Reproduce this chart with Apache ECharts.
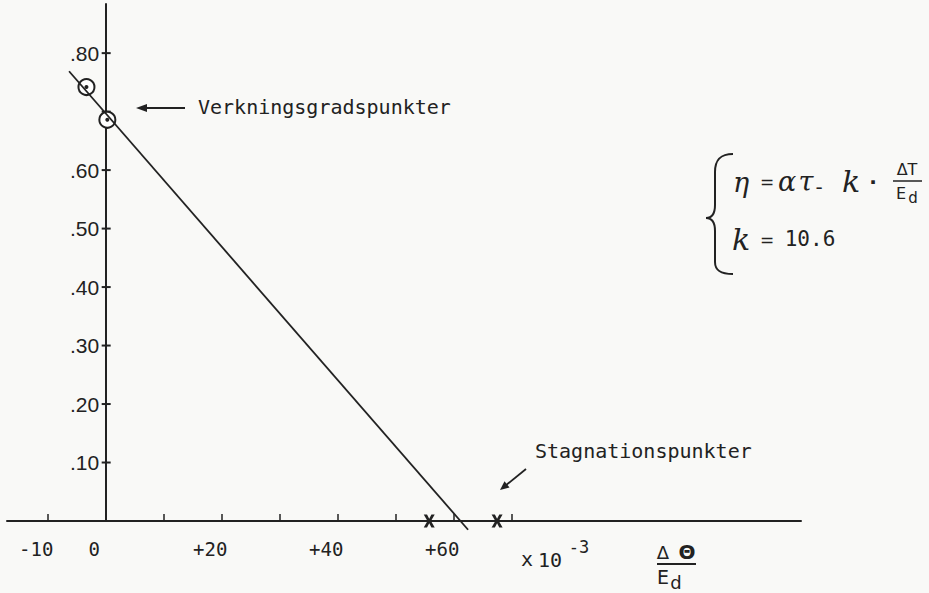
<!DOCTYPE html>
<html><head><meta charset="utf-8">
<script src="https://cdn.jsdelivr.net/npm/echarts@6/dist/echarts.min.js"></script>
<style>html,body{margin:0;padding:0;background:#f9f9f7}#c{width:929px;height:593px}</style>
</head><body><div id="c"></div>
<script>
// ---- data ----
const xTickValues = [-10, 0, 10, 20, 30, 40, 50, 60, 70];
const xTickLabels = [-10, 0, 20, 40, 60];
const yTickValues = [0.1, 0.2, 0.3, 0.4, 0.5, 0.6, 0.7, 0.8];
const yTickLabels = [0.1, 0.2, 0.3, 0.4, 0.5, 0.6, 0.8];
// Verkningsgradspunkter (efficiency points)
const effX = [-3.4, 0.2];
const effY = [0.742, 0.686];
// Stagnationspunkter (stagnation points)
const stagX = [55.7, 67.4];
const stagY = [0, 0];
// fitted line eta = a*tau - k * dT/Ed
const fitX = [-6.4, 62.4];
const fitY = [0.769, -0.015];

const ink = '#222';
const X_MIN = -17.1, X_MAX = 119.8, Y_MIN = 0, Y_MAX = 0.884;
const GRID = { left: 7, right: 128, top: 4, bottom: 72 };
const W = 929;
// put the y axis (line, labels) where x = 0 lies inside the grid
const yAxisOffset = -((0 - X_MIN) / (X_MAX - X_MIN)) * (W - GRID.left - GRID.right);

const pairs = (xs, ys) => xs.map((x, i) => [x, ys[i]]);
const txt = (text, x, y, font, extra) => ({
  type: 'text', x: x, y: y,
  style: Object.assign({ text: text, font: font, fill: ink, align: 'center', verticalAlign: 'middle' }, extra || {})
});
const seg = (x1, y1, x2, y2, w) => ({ type: 'line', shape: { x1, y1, x2, y2 }, style: { stroke: ink, lineWidth: w || 1.8 } });
const curve = (x1, y1, cpx1, cpy1, cpx2, cpy2, x2, y2) => ({
  type: 'bezierCurve', shape: { x1, y1, cpx1, cpy1, cpx2, cpy2, x2, y2 }, style: { stroke: ink, lineWidth: 2, fill: null }
});
const mono = "20px 'DejaVu Sans Mono', monospace";
const hand = "italic 27px 'DejaVu Serif', serif";

const chart = echarts.init(document.getElementById('c'), null, { renderer: 'svg' });
chart.setOption({
  backgroundColor: '#f9f9f7',
  animation: false,
  grid: Object.assign({ containLabel: false, outerBoundsMode: 'none' }, GRID),
  xAxis: {
    type: 'value', min: X_MIN, max: X_MAX,
    splitLine: { show: false },
    axisLine: { onZero: false, lineStyle: { color: ink, width: 2 } },
    axisTick: { show: true, inside: true, length: 7, customValues: xTickValues, lineStyle: { color: ink, width: 1.5 } },
    axisLabel: {
      customValues: xTickLabels, margin: 18, color: ink,
      fontFamily: "'DejaVu Sans Mono', monospace", fontSize: 19,
      padding: [0, 24, 0, 0],
      formatter: v => (v > 0 ? '+' + v : String(v))
    }
  },
  yAxis: {
    type: 'value', min: Y_MIN, max: Y_MAX, position: 'left', offset: yAxisOffset,
    splitLine: { show: false },
    axisLine: { onZero: false, lineStyle: { color: ink, width: 2 } },
    axisTick: { show: false },
    axisLabel: {
      customValues: yTickLabels, margin: 7, color: ink,
      fontFamily: "'Liberation Sans', Arial, sans-serif", fontSize: 21,
      formatter: v => v.toFixed(2).replace(/^0/, '')
    }
  },
  series: [
    { // crossing ticks on the y axis
      type: 'scatter', silent: true, symbol: 'rect', symbolSize: [9, 2],
      itemStyle: { color: ink, opacity: 1 }, data: yTickValues.map(v => [0, v]), z: 3
    },
    { // efficiency points: ring
      type: 'scatter', name: 'Verkningsgradspunkter', symbol: 'emptyCircle', symbolSize: 16,
      itemStyle: { color: ink, borderColor: ink, borderWidth: 2.2, opacity: 1 }, data: pairs(effX, effY), z: 4
    },
    { // efficiency points: centre dot
      type: 'scatter', symbol: 'circle', symbolSize: 4,
      itemStyle: { color: ink, opacity: 1 }, data: pairs(effX, effY), z: 5
    },
    { // stagnation points
      type: 'scatter', name: 'Stagnationspunkter',
      symbol: 'path://M0,0L3,0L5,4L7,0L10,0L6.6,6L10,12L7,12L5,8L3,12L0,12L3.4,6Z',
      symbolSize: [11, 13], itemStyle: { color: ink, opacity: 1 }, data: pairs(stagX, stagY), z: 5
    },
    { // fitted line
      type: 'line', symbol: 'none', clip: false, silent: true,
      lineStyle: { color: ink, width: 1.8 }, data: pairs(fitX, fitY), z: 6
    }
  ],
  graphic: [
    // Verkningsgradspunkter annotation
    seg(185, 108, 142, 108),
    { type: 'polygon', shape: { points: [[136, 108], [147, 104], [147, 112]] }, style: { fill: ink } },
    txt('Verkningsgradspunkter', 198, 107, mono, { align: 'left' }),
    // Stagnationspunkter annotation
    txt('Stagnationspunkter', 535, 451, mono, { align: 'left' }),
    seg(526, 469, 505, 486),
    { type: 'polygon', shape: { points: [[500, 490], [509.5, 487.4], [504.5, 481.2]] }, style: { fill: ink } },
    // axis unit  x 10^-3
    txt('x', 527, 559, mono),
    txt('10', 550, 560, "20px 'DejaVu Sans Mono', monospace"),
    txt('-3', 579, 547, "17px 'DejaVu Sans Mono', monospace"),
    // axis quantity  ΔΘ / Ed
    txt('Δ', 663, 552, "18px 'DejaVu Sans', sans-serif"),
    txt('Θ', 687, 552, "bold 20px 'DejaVu Sans', sans-serif"),
    seg(657, 564, 696, 564),
    txt('E', 663, 577, "19px 'DejaVu Sans', sans-serif"),
    txt('d', 676, 582, "18px 'DejaVu Sans', sans-serif"),
    // equation block: brace
    curve(733, 154, 720, 154, 715, 160, 715, 172),
    seg(715, 172, 715, 205, 2),
    curve(715, 205, 715, 214, 712, 218, 706, 218),
    curve(706, 218, 712, 218, 715, 222, 715, 231),
    seg(715, 231, 715, 262, 2),
    curve(715, 262, 715, 270, 720, 274, 733, 274),
    txt('η', 741, 182, hand),
    txt('=', 767, 182, "17px 'DejaVu Sans', sans-serif"),
    txt('α', 787, 181, hand),
    txt('τ', 806, 181, hand),
    txt('-', 819, 187, "20px 'DejaVu Sans', sans-serif"),
    txt('k', 851, 181, "italic 30px 'DejaVu Serif', serif"),
    txt('·', 873, 182, "bold 20px 'DejaVu Sans', sans-serif"),
    txt('ΔT', 907, 169, "16px 'DejaVu Sans', sans-serif"),
    seg(893, 181, 922, 181, 1.5),
    txt('E', 901, 193, "16px 'DejaVu Sans', sans-serif"),
    txt('d', 913, 198, "15px 'DejaVu Sans', sans-serif"),
    txt('k', 741, 239, "italic 30px 'DejaVu Serif', serif"),
    txt('=', 767, 240, "17px 'DejaVu Sans', sans-serif"),
    txt('10.6', 810, 239, "21px 'DejaVu Sans Mono', monospace")
  ]
});
</script>
</body></html>
